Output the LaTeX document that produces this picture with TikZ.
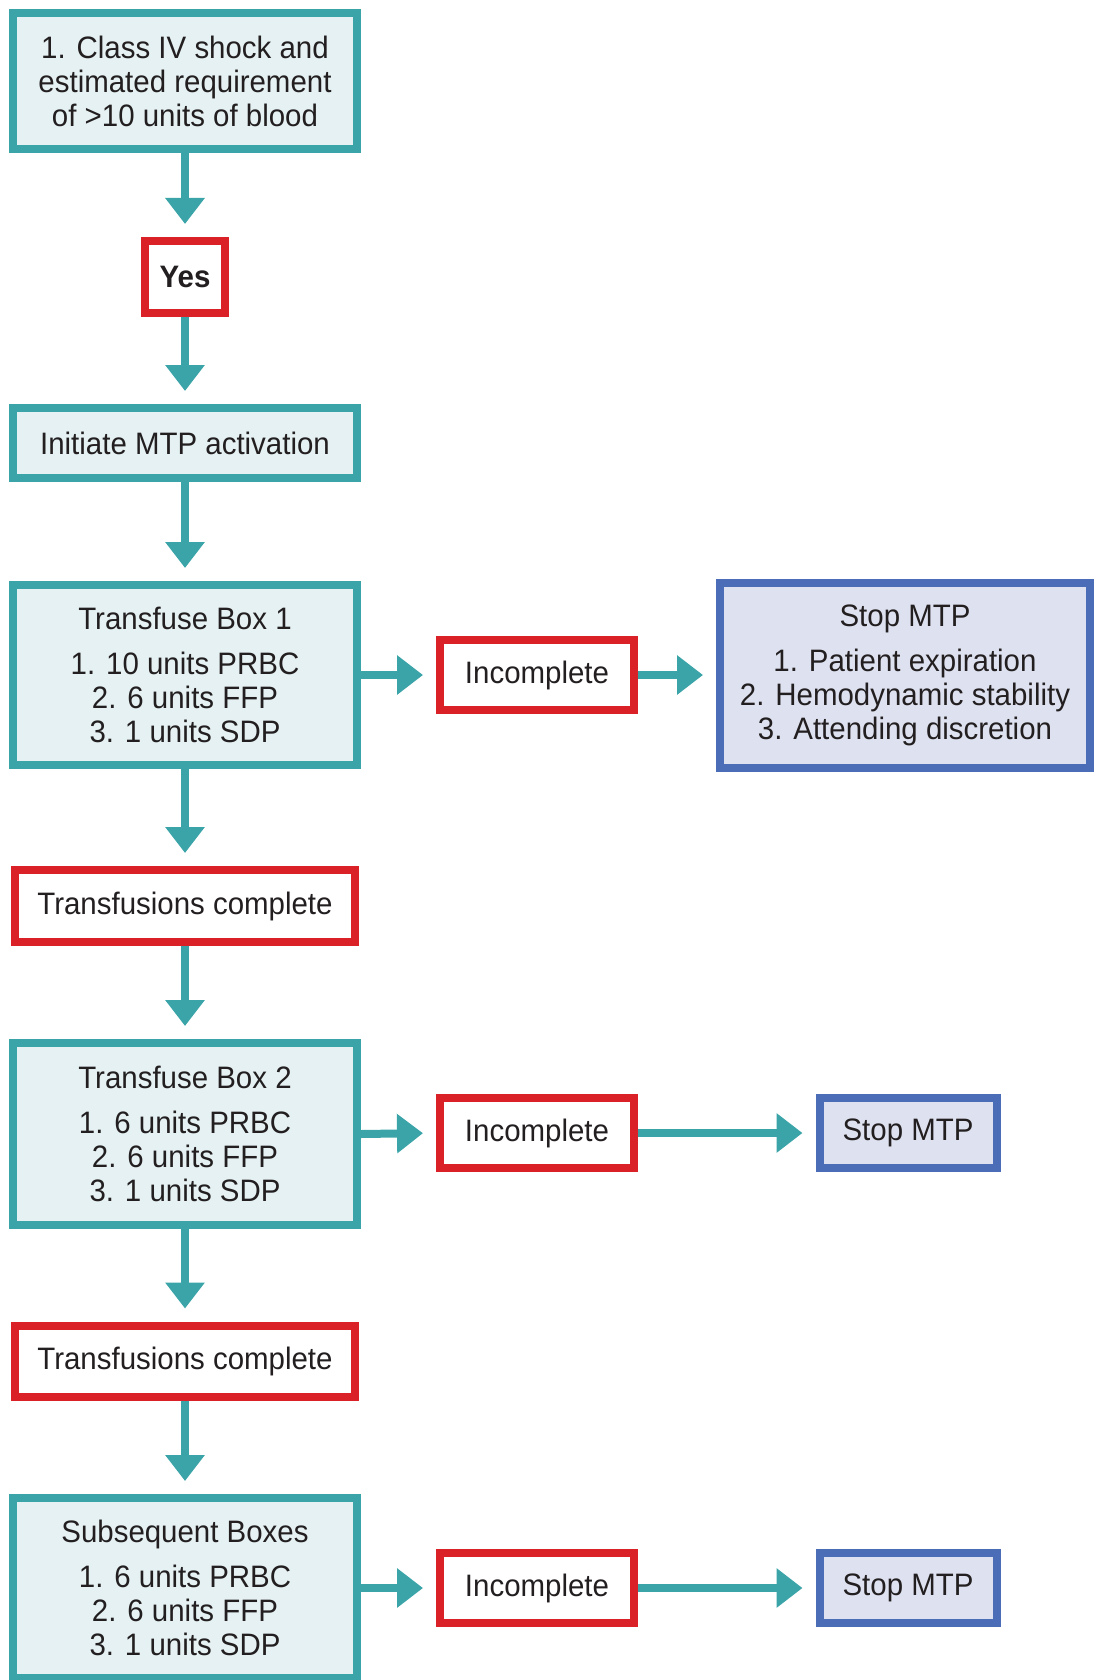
\documentclass[tikz,border=0pt]{standalone}
\usepackage{fontspec}
\setmainfont{Liberation Sans}[FakeStretch=0.95]
\usetikzlibrary{arrows.meta}

\definecolor{tealline}{HTML}{3BA4A8}
\definecolor{tealfill}{HTML}{E5F1F2}
\definecolor{redline}{HTML}{DA2128}
\definecolor{blueline}{HTML}{4B6CB7}
\definecolor{bluefill}{HTML}{DEE2F0}
\definecolor{txt}{HTML}{231F20}

\begin{document}
\begin{tikzpicture}[x=1pt,y=-1pt,
  base/.style={line width=8pt, align=center, text=txt, inner sep=0pt,
    font=\fontsize{31}{34}\selectfont},
  tealbox/.style={base, draw=tealline, fill=tealfill, minimum width=344pt},
  redbox/.style={base, draw=redline, fill=white},
  bluebox/.style={base, draw=blueline, fill=bluefill},
  flow/.style={draw=tealline, line width=8pt,
    -{Triangle[length=26pt 0 0, width=38pt 0 0]}, shorten >=13pt}
]
\useasboundingbox (0,0) rectangle (1094,1680);

% main column
\node[tealbox, minimum height=136pt] (cond) at (185,81)
  {1. Class IV shock and\\estimated requirement\\of >10 units of blood};
\node[redbox, minimum width=80pt, minimum height=72pt] (yes) at (185,277)
  {\bfseries Yes};
\node[tealbox, minimum height=70pt] (init) at (185,443)
  {Initiate MTP activation};
\node[tealbox, minimum height=180pt] (box1) at (185,675)
  {Transfuse Box 1\\[11pt]1. 10 units PRBC\\2. 6 units FFP\\3. 1 units SDP};
\node[redbox, minimum width=340pt, minimum height=72pt] (done1) at (185,906)
  {Transfusions complete};
\node[tealbox, minimum height=182pt] (box2) at (185,1134)
  {Transfuse Box 2\\[11pt]1. 6 units PRBC\\2. 6 units FFP\\3. 1 units SDP};
\node[redbox, minimum width=340pt, minimum height=71pt] (done2) at (185,1361)
  {Transfusions complete};
\node[tealbox, minimum height=180pt] (box3) at (185,1588)
  {Subsequent Boxes\\[11pt]1. 6 units PRBC\\2. 6 units FFP\\3. 1 units SDP};

% incomplete branches
\node[redbox, minimum width=194pt, minimum height=70pt] (inc1) at (537,675) {Incomplete};
\node[redbox, minimum width=194pt, minimum height=70pt] (inc2) at (537,1133) {Incomplete};
\node[redbox, minimum width=194pt, minimum height=70pt] (inc3) at (537,1588) {Incomplete};

% stop boxes
\node[bluebox, minimum width=370pt, minimum height=185pt] (stop1) at (905,675)
  {Stop MTP\\[11pt]1. Patient expiration\\2. Hemodynamic stability\\3. Attending discretion};
\node[bluebox, minimum width=177pt, minimum height=70pt] (stop2) at (908,1133) {Stop MTP};
\node[bluebox, minimum width=177pt, minimum height=70pt] (stop3) at (908,1588) {Stop MTP};

% connectors
\draw[flow] (cond) -- (yes);
\draw[flow] (yes) -- (init);
\draw[flow] (init) -- (box1);
\draw[flow] (box1) -- (done1);
\draw[flow] (done1) -- (box2);
\draw[flow] (box2) -- (done2);
\draw[flow] (done2) -- (box3);
\draw[flow] (box1.east) -- (inc1.west);
\draw[flow] (inc1.east) -- (stop1.west);
\draw[flow] (box2.east) -- (inc2.west);
\draw[flow] (inc2.east) -- (stop2.west);
\draw[flow] (box3.east) -- (inc3.west);
\draw[flow] (inc3.east) -- (stop3.west);
\end{tikzpicture}
\end{document}
